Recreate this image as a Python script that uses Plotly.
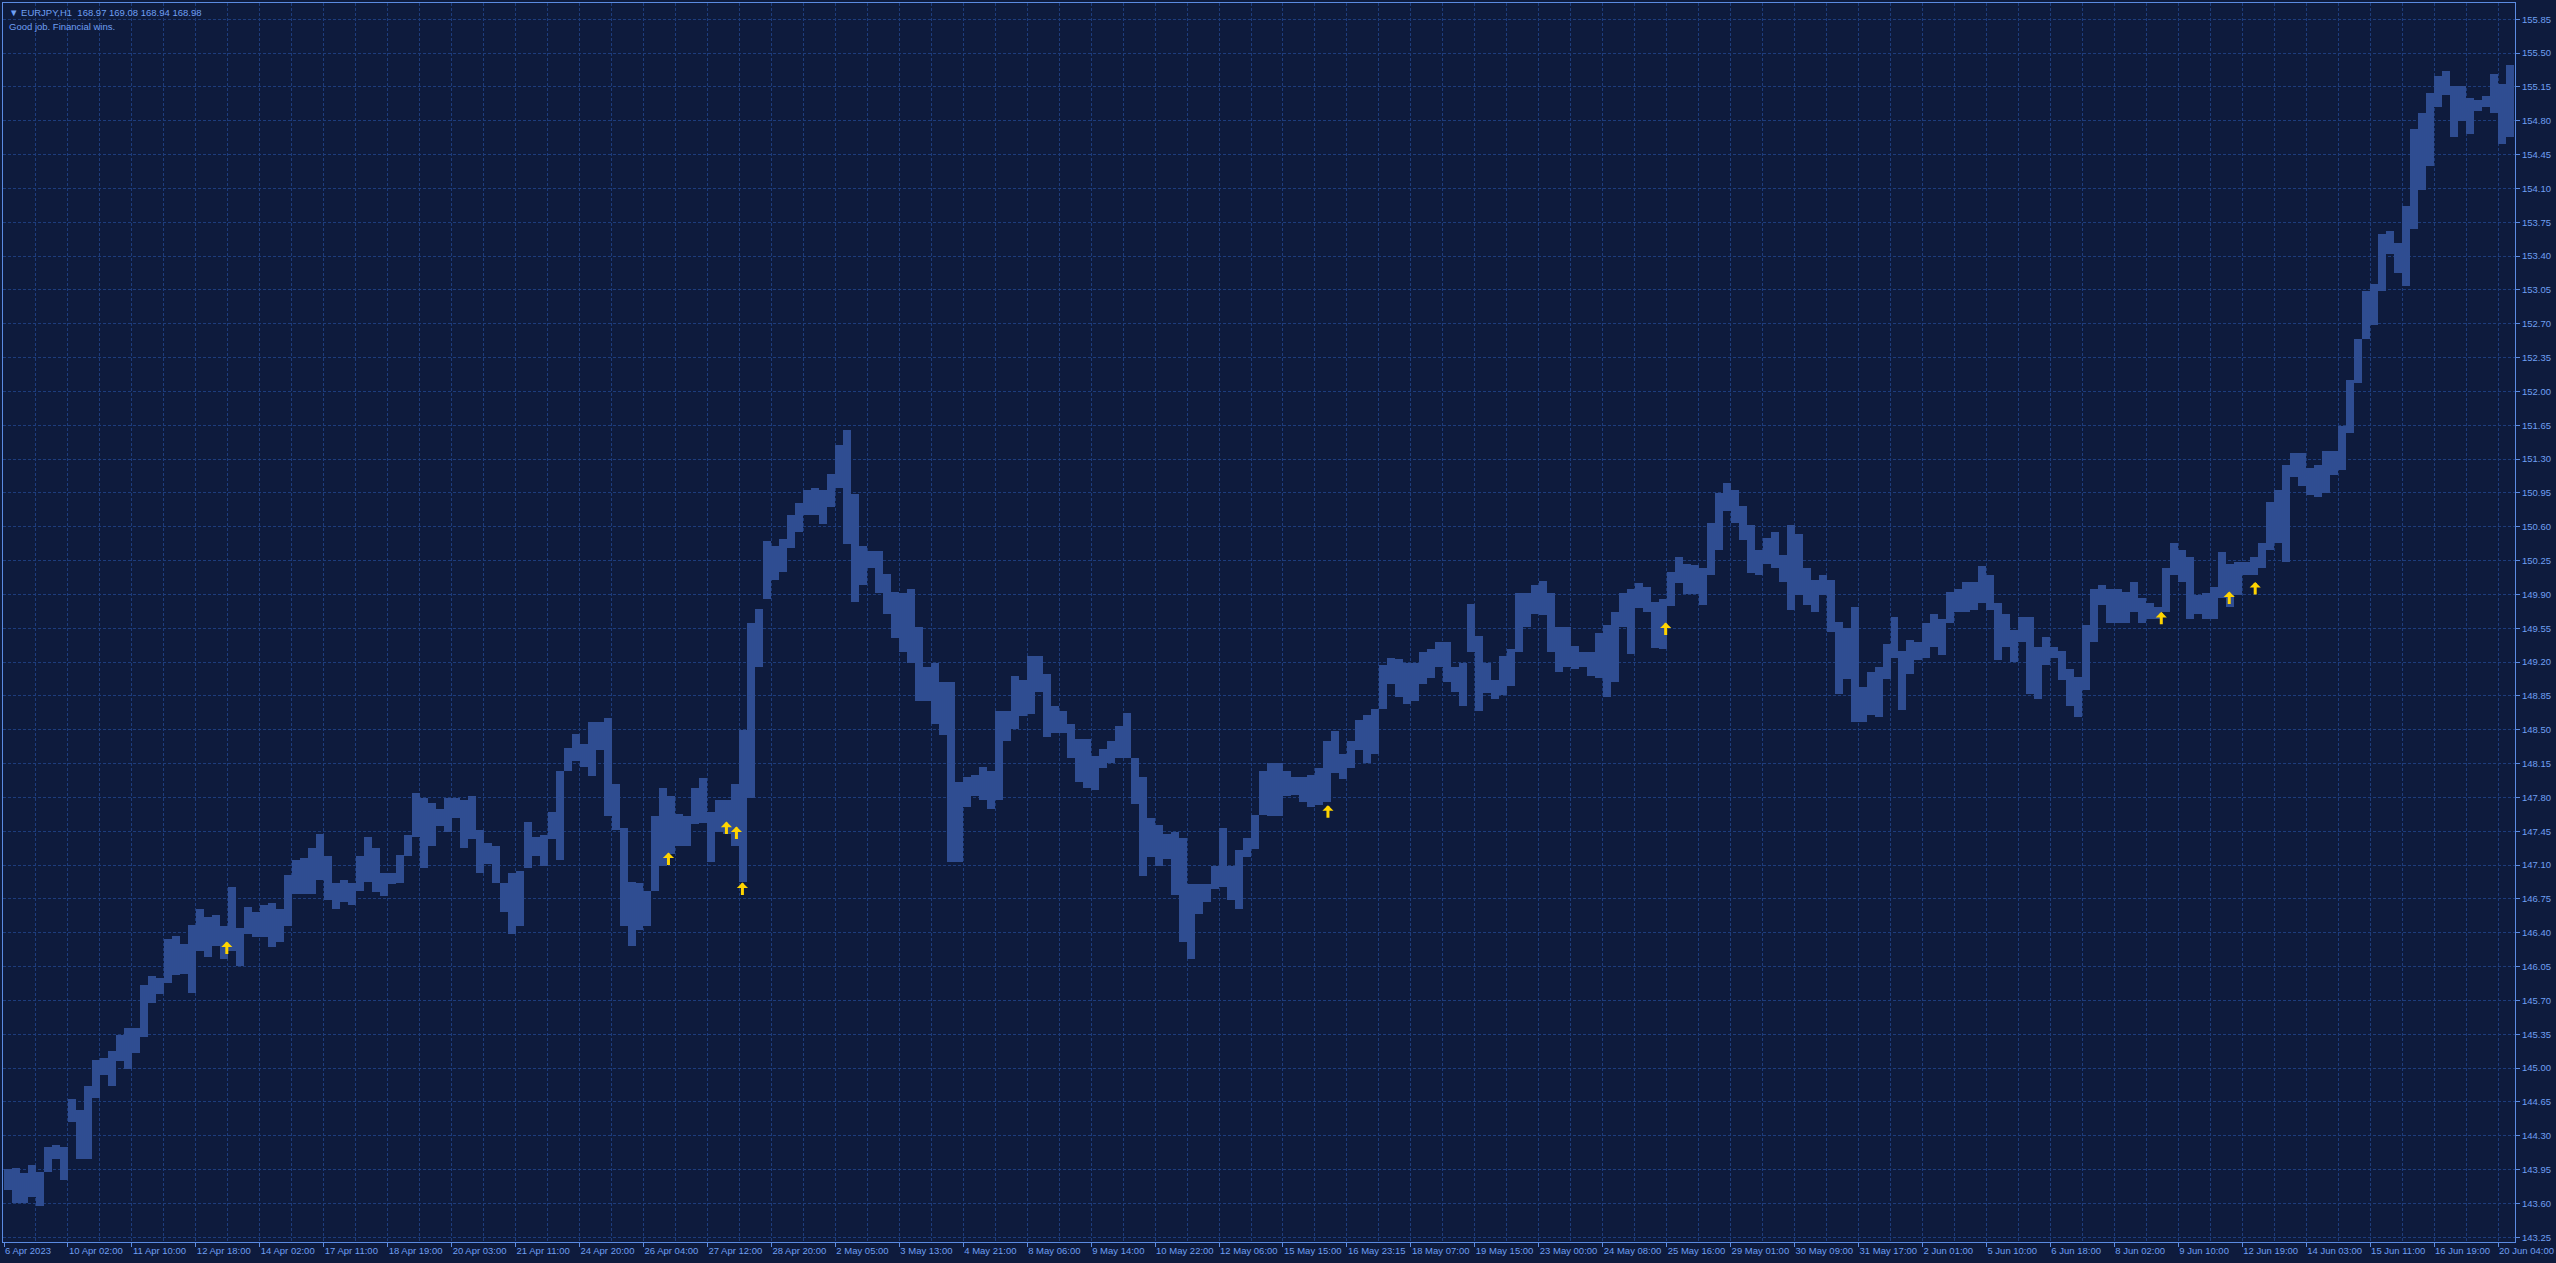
import plotly.graph_objects as go

# 4-hour bar extremes of EURJPY, oldest first
bar_high = [
    143.96, 143.97, 143.91, 144.00, 143.93, 144.18, 144.20, 144.18, 144.68, 144.57,
    144.81, 145.08, 145.10, 145.18, 145.34, 145.42, 145.42, 145.86, 145.95, 145.93,
    146.34, 146.37, 146.28, 146.48, 146.65, 146.56, 146.58, 146.47, 146.87, 146.45,
    146.67, 146.61, 146.69, 146.71, 146.65, 147.00, 147.15, 147.17, 147.28, 147.42,
    147.19, 146.91, 146.95, 146.91, 147.19, 147.39, 147.28, 147.02, 147.02, 147.20,
    147.41, 147.85, 147.79, 147.74, 147.68, 147.79, 147.79, 147.77, 147.81, 147.46,
    147.33, 147.30, 146.91, 147.02, 147.04, 147.55, 147.39, 147.41, 147.65, 148.07,
    148.31, 148.46, 148.35, 148.58, 148.58, 148.62, 147.94, 147.48, 146.93, 146.91,
    146.83, 147.61, 147.90, 147.81, 147.63, 147.61, 147.90, 148.00, 147.65, 147.77,
    147.77, 147.94, 148.50, 149.60, 149.75, 150.45, 150.40, 150.47, 150.72, 150.85,
    150.98, 151.00, 150.98, 151.15, 151.45, 151.60, 150.94, 150.40, 150.35, 150.35,
    150.11, 149.93, 149.91, 149.96, 149.56, 149.15, 149.19, 148.99, 148.99, 147.96,
    148.01, 148.03, 148.12, 148.07, 148.69, 148.69, 149.06, 149.01, 149.26, 149.26,
    149.08, 148.75, 148.69, 148.56, 148.40, 148.40, 148.23, 148.30, 148.38, 148.54,
    148.67, 148.21, 148.01, 147.59, 147.51, 147.42, 147.44, 147.38, 146.90, 146.90,
    146.90, 147.09, 147.48, 147.09, 147.26, 147.38, 147.62, 148.07, 148.16, 148.16,
    148.07, 148.01, 148.01, 148.03, 148.10, 148.38, 148.49, 148.25, 148.38, 148.60,
    148.65, 148.71, 149.17, 149.24, 149.23, 149.19, 149.19, 149.30, 149.34, 149.41,
    149.41, 149.15, 149.19, 149.80, 149.47, 149.19, 149.01, 149.26, 149.34, 149.91,
    149.91, 150.00, 150.04, 149.91, 149.56, 149.56, 149.37, 149.30, 149.30, 149.50,
    149.58, 149.72, 149.91, 149.96, 150.02, 149.98, 149.82, 149.85, 150.13, 150.29,
    150.22, 150.20, 150.17, 150.64, 150.95, 151.05, 150.98, 150.81, 150.62, 150.36,
    150.48, 150.55, 150.31, 150.62, 150.53, 150.17, 150.05, 150.10, 150.05, 149.62,
    149.55, 149.77, 148.94, 149.10, 149.15, 149.39, 149.67, 149.32, 149.43, 149.41,
    149.60, 149.70, 149.65, 149.93, 149.96, 150.03, 150.03, 150.19, 150.10, 149.81,
    149.70, 149.53, 149.67, 149.67, 149.36, 149.46, 149.36, 149.32, 149.13, 149.05,
    149.58, 149.96, 150.00, 149.96, 149.96, 149.93, 150.03, 149.86, 149.81, 149.77,
    150.17, 150.43, 150.36, 150.29, 149.89, 149.91, 149.98, 150.34, 150.22, 150.24,
    150.24, 150.29, 150.43, 150.86, 150.98, 151.24, 151.36, 151.36, 151.21, 151.24,
    151.38, 151.38, 151.64, 152.12, 152.54, 153.04, 153.11, 153.63, 153.66, 153.54,
    153.92, 154.71, 154.88, 155.09, 155.26, 155.31, 155.16, 155.16, 155.04, 155.02,
    155.06, 155.28, 155.18, 155.38,
]
bar_low = [
    143.74, 143.60, 143.60, 143.67, 143.57, 143.93, 144.06, 143.84, 144.44, 144.06,
    144.06, 144.69, 144.93, 144.81, 145.07, 144.99, 145.16, 145.32, 145.67, 145.77,
    145.88, 145.96, 145.97, 145.78, 146.21, 146.15, 146.26, 146.13, 146.21, 146.06,
    146.39, 146.36, 146.36, 146.25, 146.30, 146.47, 146.80, 146.80, 146.80, 146.95,
    146.74, 146.65, 146.72, 146.69, 146.83, 146.93, 146.82, 146.78, 146.90, 146.92,
    147.19, 147.39, 147.07, 147.30, 147.50, 147.44, 147.59, 147.28, 147.37, 147.02,
    147.11, 146.91, 146.61, 146.39, 146.47, 147.07, 147.19, 147.09, 147.37, 147.15,
    148.07, 148.18, 148.12, 148.02, 148.29, 147.61, 147.46, 146.47, 146.26, 146.43,
    146.47, 146.83, 147.09, 147.22, 147.30, 147.30, 147.53, 147.54, 147.13, 147.44,
    147.42, 147.30, 146.93, 147.79, 149.15, 149.85, 150.05, 150.13, 150.38, 150.55,
    150.72, 150.72, 150.63, 150.80, 151.00, 150.42, 149.82, 150.00, 150.17, 149.91,
    149.70, 149.45, 149.30, 149.19, 148.80, 148.80, 148.56, 148.45, 147.13, 147.13,
    147.70, 147.81, 147.77, 147.68, 147.77, 148.38, 148.51, 148.64, 148.66, 148.89,
    148.43, 148.47, 148.47, 148.21, 147.96, 147.90, 147.88, 148.10, 148.16, 148.21,
    148.21, 147.73, 146.99, 147.18, 147.09, 147.16, 146.79, 146.30, 146.13, 146.59,
    146.72, 146.85, 146.87, 146.74, 146.65, 147.18, 147.27, 147.62, 147.61, 147.61,
    147.81, 147.83, 147.75, 147.70, 147.72, 147.75, 148.05, 147.99, 148.10, 148.29,
    148.16, 148.25, 148.71, 148.97, 148.84, 148.77, 148.80, 148.97, 149.04, 149.15,
    148.99, 148.89, 148.75, 149.30, 148.69, 148.88, 148.82, 148.86, 148.95, 149.30,
    149.56, 149.70, 149.69, 149.30, 149.10, 149.15, 149.13, 149.15, 149.06, 149.04,
    148.84, 148.99, 149.56, 149.28, 149.76, 149.72, 149.35, 149.34, 149.78, 150.02,
    149.90, 149.90, 149.79, 150.10, 150.36, 150.76, 150.64, 150.46, 150.12, 150.10,
    150.22, 150.17, 150.03, 149.74, 149.89, 149.79, 149.72, 149.89, 149.51, 148.87,
    149.03, 148.58, 148.58, 148.65, 148.63, 149.03, 149.24, 148.70, 149.08, 149.22,
    149.24, 149.36, 149.27, 149.60, 149.72, 149.72, 149.74, 149.81, 149.74, 149.22,
    149.36, 149.20, 149.41, 148.87, 148.82, 149.17, 149.24, 149.01, 148.75, 148.63,
    148.91, 149.41, 149.79, 149.60, 149.60, 149.60, 149.72, 149.60, 149.65, 149.65,
    149.72, 150.10, 150.03, 149.65, 149.70, 149.65, 149.65, 149.86, 149.77, 149.89,
    150.10, 150.10, 150.17, 150.36, 150.43, 150.24, 151.12, 151.02, 150.93, 150.91,
    150.95, 151.14, 151.19, 151.57, 152.09, 152.54, 152.69, 153.04, 153.42, 153.23,
    153.09, 153.68, 154.08, 154.33, 154.94, 155.07, 154.63, 154.80, 154.66, 154.90,
    154.94, 154.88, 154.56, 154.63,
]

# time-axis labels, one every 32 hourly bars (= 8 four-hour bars)
tick_labels = [
    "6 Apr 2023", "10 Apr 02:00", "11 Apr 10:00", "12 Apr 18:00", "14 Apr 02:00",
    "17 Apr 11:00", "18 Apr 19:00", "20 Apr 03:00", "21 Apr 11:00", "24 Apr 20:00",
    "26 Apr 04:00", "27 Apr 12:00", "28 Apr 20:00", "2 May 05:00", "3 May 13:00",
    "4 May 21:00", "8 May 06:00", "9 May 14:00", "10 May 22:00", "12 May 06:00",
    "15 May 15:00", "16 May 23:15", "18 May 07:00", "19 May 15:00", "23 May 00:00",
    "24 May 08:00", "25 May 16:00", "29 May 01:00", "30 May 09:00", "31 May 17:00",
    "2 Jun 01:00", "5 Jun 10:00", "6 Jun 18:00", "8 Jun 02:00", "9 Jun 10:00",
    "12 Jun 19:00", "14 Jun 03:00", "15 Jun 11:00", "16 Jun 19:00", "20 Jun 04:00",
]
price_ticks = [
    143.25, 143.60, 143.95, 144.30, 144.65, 145.00, 145.35, 145.70, 146.05, 146.40,
    146.75, 147.10, 147.45, 147.80, 148.15, 148.50, 148.85, 149.20, 149.55, 149.90,
    150.25, 150.60, 150.95, 151.30, 151.65, 152.00, 152.35, 152.70, 153.05, 153.40,
    153.75, 154.10, 154.45, 154.80, 155.15, 155.50, 155.85,
]

# buy-signal arrows: hourly bar index and price of the arrow tip
arrow_hour = [111, 332, 361, 366, 369, 662, 831, 1079, 1113, 1126]
arrow_price = [146.31, 147.23, 147.55, 147.50, 146.92, 147.72, 149.61, 149.72, 149.93, 150.03]

BG = "#0e1b3d"
GRID = "#1d3c7c"
FRAME = "#5b8be2"
TEXT = "#6f9ff2"
BAR = "#4f7fe6"
FONT = "Liberation Sans"

n = len(bar_high)
xs = [k + 0.5 for k in range(n)]
lengths = [h - l for h, l in zip(bar_high, bar_low)]

fig = go.Figure()
fig.add_trace(go.Bar(
    x=xs, y=lengths, base=bar_low, width=1.0,
    marker=dict(color=BAR, line=dict(width=0),
                pattern=dict(shape="|", size=2, solidity=0.5,
                             fgcolor=BAR, bgcolor=BG, fillmode="replace")),
    hoverinfo="skip", showlegend=False,
))

major = [8 * j for j in range(len(tick_labels))]
minor = [8 * j + 4 for j in range(len(tick_labels))]

fig.update_layout(
    width=2556, height=1263,
    margin=dict(l=2, r=40, t=2, b=21),
    paper_bgcolor=BG, plot_bgcolor=BG,
    bargap=0,
    font=dict(family=FONT, size=9.5, color=TEXT),
    xaxis=dict(
        range=[-0.125, n + 0.125], tickmode="array", tickvals=major, ticktext=tick_labels,
        ticks="outside", ticklen=4, tickcolor=FRAME, tickwidth=1,
        ticklabelposition="outside right", tickangle=0,
        tickfont=dict(family=FONT, size=9.5, color=TEXT),
        showgrid=True, gridcolor=GRID, griddash="3px,2px", gridwidth=1,
        minor=dict(tickvals=minor, showgrid=True, gridcolor=GRID, griddash="3px,2px", ticks=""),
        showline=True, linecolor=FRAME, linewidth=1, mirror=True,
        zeroline=False, fixedrange=True,
    ),
    yaxis=dict(
        side="right", range=[143.201, 156.0185], tickmode="array",
        tickvals=price_ticks, ticktext=[f"{v:.2f}" for v in price_ticks],
        ticks="outside", ticklen=4, tickcolor=FRAME, tickwidth=1,
        tickfont=dict(family=FONT, size=9.5, color=TEXT),
        showgrid=True, gridcolor=GRID, griddash="3px,2px", gridwidth=1,
        showline=True, linecolor=FRAME, linewidth=1, mirror=True,
        zeroline=False, fixedrange=True,
    ),
)

for h, p in zip(arrow_hour, arrow_price):
    fig.add_annotation(
        x=(h + 0.5) / 4, y=p, xref="x", yref="y", text="",
        showarrow=True, ax=0, ay=14, arrowhead=1, arrowsize=0.62, arrowwidth=3,
        arrowcolor="#ffd400", standoff=0,
    )

fig.add_annotation(
    x=0, y=1, xref="paper", yref="paper", xanchor="left", yanchor="top",
    xshift=4, yshift=-2, showarrow=False,
    text="\u25BC EURJPY,H1\u00a0\u00a0168.97 169.08 168.94 168.98",
    font=dict(family=FONT, size=9.5, color=TEXT),
)
fig.add_annotation(
    x=0, y=1, xref="paper", yref="paper", xanchor="left", yanchor="top",
    xshift=4, yshift=-16, showarrow=False,
    text="Good job. Financial wins.",
    font=dict(family=FONT, size=9.5, color=TEXT),
)

fig.write_html("out.html", config={"displayModeBar": False},
               post_script="document.body.style.margin='0px';")
